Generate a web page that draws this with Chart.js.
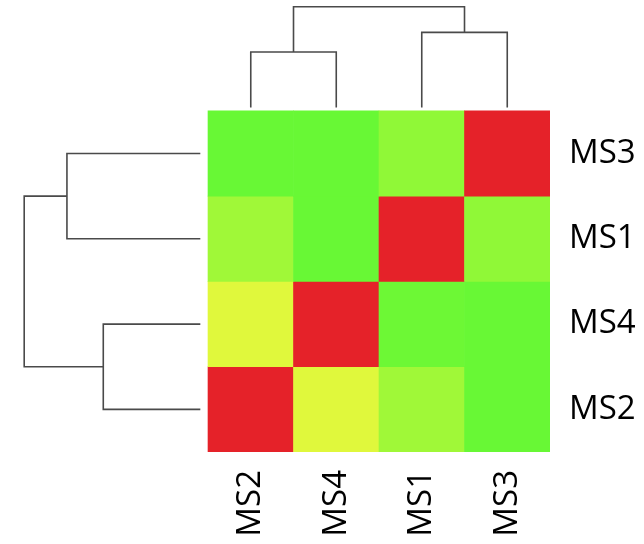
<!DOCTYPE html>
<html>
<head>
<meta charset="utf-8">
<script src="https://cdn.jsdelivr.net/npm/chart.js@4"></script>
<style>
  html, body { margin: 0; padding: 0; background: #fff; }
  #wrap { width: 644px; height: 544px; }
</style>
</head>
<body>
<div id="wrap"><canvas id="heatmap" width="644" height="544"></canvas></div>
<script>
// orden de columnas (izq -> der) y filas (arriba -> abajo)
const colLabels = ["MS2", "MS4", "MS1", "MS3"];
const rowLabels = ["MS3", "MS1", "MS4", "MS2"];

// valores de similitud, filas arriba -> abajo
const rowMS3 = [0.10, 0.10, 0.25, 1.00];
const rowMS1 = [0.31, 0.10, 1.00, 0.25];
const rowMS4 = [0.55, 1.00, 0.12, 0.10];
const rowMS2 = [1.00, 0.55, 0.31, 0.10];
const matriz = [rowMS3, rowMS1, rowMS4, rowMS2];

// dendrogramas: [hijoA, hijoB, altura], hojas 0..3, nodos nuevos 4, 5, 6
const colLinks = [[0, 1, 0.65], [2, 3, 0.88], [4, 5, 1.18]];
const rowLinks = [[0, 1, 1.56], [2, 3, 1.135], [4, 5, 2.06]];

// escala de color: verde -> amarillo -> rojo
const colorStops = [[0.10, [104, 248, 53]], [0.55, [224, 248, 60]], [1.00, [229, 34, 41]]];

function colorDe(v) {
  for (let i = 1; i < colorStops.length; i++) {
    const [v0, c0] = colorStops[i - 1];
    const [v1, c1] = colorStops[i];
    if (v <= v1 || i === colorStops.length - 1) {
      const t = Math.max(0, Math.min(1, (v - v0) / (v1 - v0)));
      const c = c0.map((k, j) => Math.round(k + (c1[j] - k) * t));
      return `rgb(${c[0]},${c[1]},${c[2]})`;
    }
  }
}

const n = colLabels.length;
const colBase = 4.04;   // donde empiezan las hojas de arriba
const rowBase = -0.09;  // donde empiezan las hojas de la izquierda
const lineaColor = "#4a4a4a";

// celdas: una serie de barras flotantes por fila
const celdas = matriz.map((fila, i) => {
  const y0 = n - 1 - i;
  return {
    type: "bar",
    data: fila.map((v, j) => ({ x: j + 0.5, y: [y0, y0 + 1] })),
    backgroundColor: fila.map(colorDe),
    borderWidth: 0,
    grouped: false,
    barPercentage: 1,
    categoryPercentage: 1
  };
});

// lineas del dendrograma de columnas
function ramasColumnas() {
  const pos = colLabels.map((_, j) => j + 0.5);
  const alt = colLabels.map(() => 0);
  return colLinks.map(([a, b, h]) => {
    const puntos = [
      { x: pos[a], y: colBase + alt[a] },
      { x: pos[a], y: colBase + h },
      { x: pos[b], y: colBase + h },
      { x: pos[b], y: colBase + alt[b] }
    ];
    pos.push((pos[a] + pos[b]) / 2);
    alt.push(h);
    return puntos;
  });
}

// lineas del dendrograma de filas
function ramasFilas() {
  const pos = rowLabels.map((_, i) => n - 1 - i + 0.5);
  const alt = rowLabels.map(() => 0);
  return rowLinks.map(([a, b, h]) => {
    const puntos = [
      { x: rowBase - alt[a], y: pos[a] },
      { x: rowBase - h, y: pos[a] },
      { x: rowBase - h, y: pos[b] },
      { x: rowBase - alt[b], y: pos[b] }
    ];
    pos.push((pos[a] + pos[b]) / 2);
    alt.push(h);
    return puntos;
  });
}

const ramas = ramasColumnas().concat(ramasFilas()).map(puntos => ({
  type: "line",
  data: puntos,
  borderColor: lineaColor,
  borderWidth: 1.6,
  pointRadius: 0,
  fill: false,
  tension: 0
}));

const fuente = { family: "'Open Sans', sans-serif", size: 33 };

// quitar el relleno que Chart.js reserva para las etiquetas de los extremos
function sinRelleno(scale) {
  scale.paddingLeft = 0;
  scale.paddingRight = 0;
  scale.paddingTop = 0;
  scale.paddingBottom = 0;
}

new Chart(document.getElementById("heatmap").getContext("2d"), {
  type: "bar",
  data: { datasets: celdas.concat(ramas) },
  options: {
    responsive: false,
    animation: false,
    layout: { padding: 0 },
    plugins: { legend: { display: false }, tooltip: { enabled: false } },
    scales: {
      x: {
        type: "linear",
        position: "bottom",
        offset: false,
        min: -2.433,
        max: 4,
        grid: { display: false, drawTicks: false, offset: false },
        border: { display: false },
        afterBuildTicks: axis => { axis.ticks = colLabels.map((_, j) => ({ value: j + 0.5 })); },
        afterFit: scale => { scale.height = 92; sinRelleno(scale); },
        ticks: {
          font: fuente,
          color: "#000",
          padding: 18,
          minRotation: 90,
          maxRotation: 90,
          autoSkip: false,
          callback: (v, i) => colLabels[i]
        }
      },
      y: {
        type: "linear",
        position: "right",
        min: 0,
        max: 5.30,
        grid: { display: false, drawTicks: false },
        border: { display: false },
        afterBuildTicks: axis => { axis.ticks = rowLabels.map((_, i) => ({ value: i + 0.5 })); },
        afterFit: scale => { scale.width = 94; sinRelleno(scale); },
        ticks: {
          font: fuente,
          color: "#000",
          padding: 19,
          autoSkip: false,
          callback: (v, i) => rowLabels[n - 1 - i]
        }
      }
    }
  }
});
</script>
</body>
</html>
